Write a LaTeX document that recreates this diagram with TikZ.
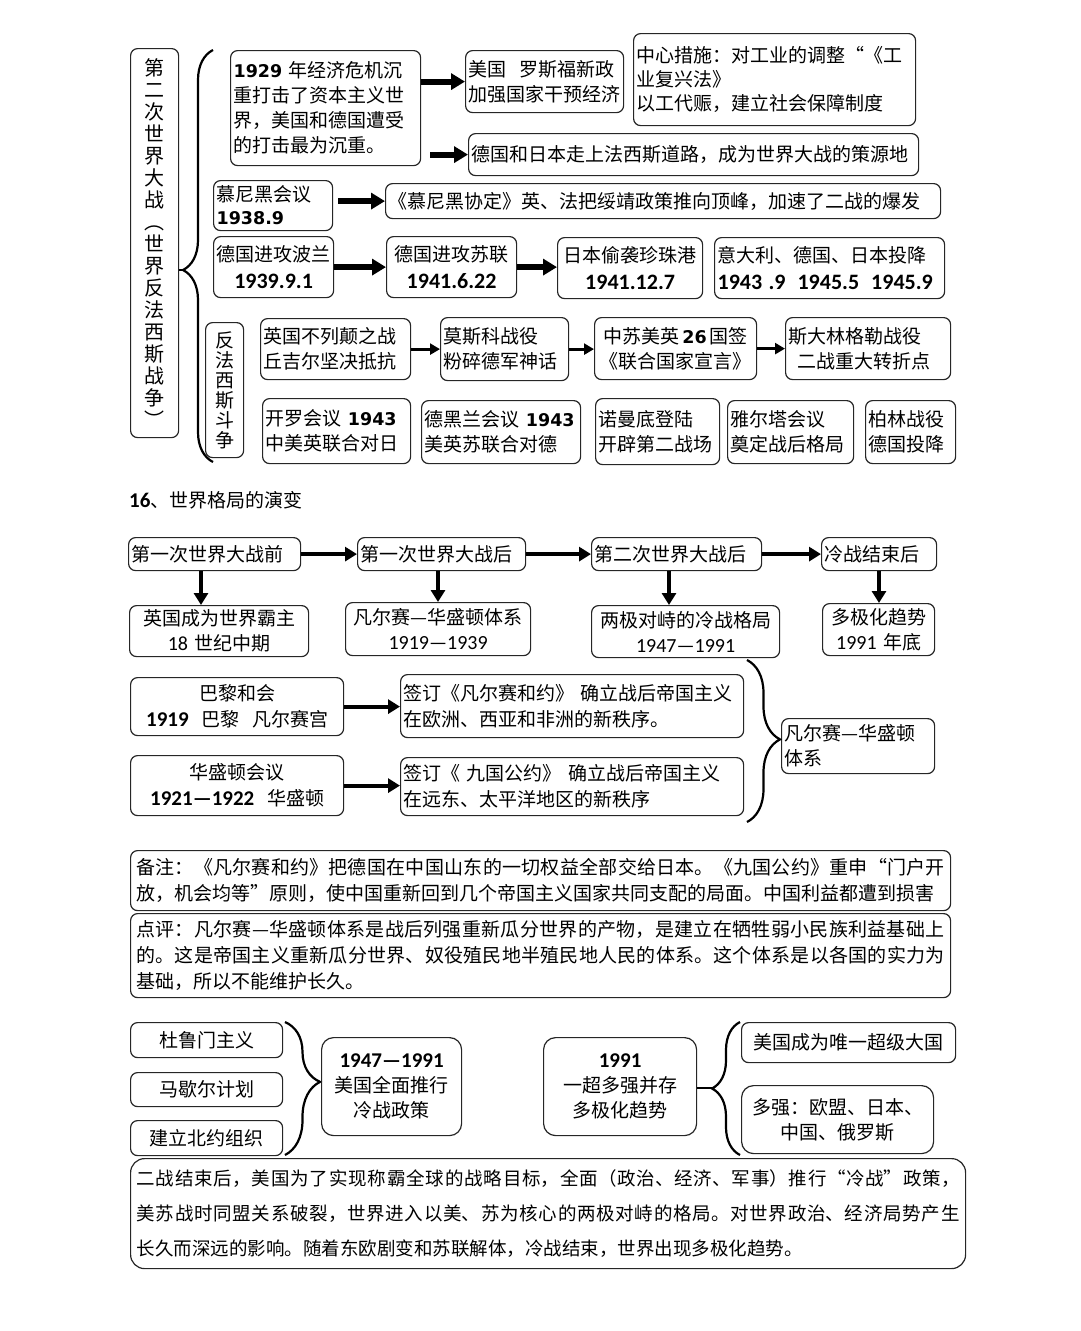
\documentclass[tikz,border=0pt]{standalone}
\usepackage{fontspec}
\setmainfont{Noto Sans CJK SC}
\newfontfamily\widenum{DejaVu Sans}
\newfontfamily\narrownum{Carlito}
\usepackage{tikz}
\usetikzlibrary{arrows.meta,calc,decorations.pathreplacing}
\newcommand{\numw}[1]{{\widenum\bfseries\fontsize{17.5}{25}\selectfont #1}}
\newcommand{\numh}[1]{{\narrownum\bfseries\fontsize{21}{25}\selectfont #1}}
\newcommand{\numr}[1]{{\narrownum\fontsize{20}{25}\selectfont #1}}
\newcommand{\bigdate}[1]{{\narrownum\bfseries\fontsize{22}{25}\selectfont #1}}
\newcommand{\cjkbreak}{\XeTeXlinebreaklocale "zh"\XeTeXlinebreakskip=0pt plus 4pt\relax}

\begin{document}
\begin{tikzpicture}[x=1pt,y=-1pt,
  box/.style={draw=black!85, line width=1.2pt, rounded corners=7pt, anchor=north west,
    inner xsep=3pt, inner ysep=1pt, font=\fontsize{19}{25}\selectfont},
  note/.style={box, align=justify, inner xsep=6pt, font=\fontsize{19}{26}\selectfont\cjkbreak},
  fat/.style={-{Triangle[length=14pt,width=16pt]}, line width=6pt},
  mid/.style={-{Triangle[length=12pt,width=14pt]}, line width=4pt},
  slim/.style={-{Triangle[length=10pt,width=11pt]}, line width=3pt},
  curly/.style 2 args={decorate, decoration={brace, amplitude=#1, aspect=#2}, line width=2.2pt}]
\useasboundingbox (0,0) rectangle (1080,1331);

% ---- 第二次世界大战 ----
\node[box, minimum width=48pt, minimum height=389pt, text width=40pt, inner xsep=4pt, align=center,
  font=\fontsize{20}{22}\selectfont] (title) at (130,48)
  {第\\二\\次\\世\\界\\大\\战\\︵\\世\\界\\反\\法\\西\\斯\\战\\争\\︶};
\coordinate (b1bot) at (213,462);
\coordinate (b1top) at (213,50);
\coordinate (tip1) at (183,270);
\draw[curly={30pt}{0.466}] (b1bot) -- (b1top);
\draw[line width=2.2pt] (title.east |- tip1) -- (tip1);

% 经济危机
\node[box, text width=184pt, minimum height=115pt, align=left] (crisis) at (230,50)
  {\numw{1929} 年经济危机沉\\重打击了资本主义世\\界，美国和德国遭受\\的打击最为沉重。};
\node[box, text width=152pt, minimum height=62pt, align=left] (roosevelt) at (465,50)
  {美国\ \ 罗斯福新政\\加强国家干预经济};
\node[box, text width=276pt, minimum height=92pt, align=left, font=\fontsize{19}{24}\selectfont] (measures) at (633,33)
  {中心措施：对工业的调整“《工\\业复兴法》\\以工代赈，建立社会保障制度};
\node[box, text width=444pt, minimum height=42pt, align=left] (fascism) at (468,133)
  {德国和日本走上法西斯道路，成为世界大战的策源地};
\draw[fat] (crisis.east |- roosevelt.west) -- (roosevelt.west);
\draw[fat] ($(crisis.east |- fascism.west)+(9,0)$) -- (fascism.west);

% 慕尼黑
\node[box, text width=113pt, minimum height=50pt, align=left, font=\fontsize{19}{23}\selectfont] (munich) at (213,180)
  {慕尼黑会议\\\numw{1938.9}};
\node[box, text width=549pt, minimum height=35pt, align=left] (pact) at (385,183)
  {《慕尼黑协定》英、法把绥靖政策推向顶峰，加速了二战的爆发};
\draw[fat] ($(munich.east |- pact.west)+(5,0)$) -- (pact.west);

% 战争进程
\node[box, text width=114pt, minimum height=61pt, align=center] (poland) at (213,236)
  {德国进攻波兰\\[2pt]\bigdate{1939.9.1}};
\node[box, text width=124pt, minimum height=61pt, align=center] (ussr) at (386,236)
  {德国进攻苏联\\[2pt]\bigdate{1941.6.22}};
\node[box, text width=139pt, minimum height=61pt, align=center] (pearl) at (557,237)
  {日本偷袭珍珠港\\[2pt]\bigdate{1941.12.7}};
\node[box, text width=224pt, minimum height=61pt, align=left] (surrender) at (714,237)
  {意大利、德国、日本投降\\[2pt]\bigdate{1943 .9\hspace{12pt}1945.5\hspace{12pt}1945.9}};
\draw[fat] (poland.east) -- (poland.east -| ussr.west);
\draw[fat] (ussr.east) -- (ussr.east -| pearl.west);

% 反法西斯斗争
\node[box, text width=32pt, minimum height=135pt, align=center, font=\fontsize{19}{20}\selectfont] (antifa) at (205,322)
  {反\\法\\西\\斯\\斗\\争};
\node[box, text width=144pt, minimum height=61pt, align=left] (britain) at (260,318)
  {英国不列颠之战\\丘吉尔坚决抵抗};
\node[box, text width=122pt, minimum height=63pt, align=left] (moscow) at (440,317)
  {莫斯科战役\\粉碎德军神话};
\node[box, text width=156pt, minimum height=62pt, align=center] (declaration) at (594,317)
  {中苏美英\,\numw{26}\,国签\\《联合国家宣言》};
\node[box, text width=159pt, minimum height=62pt, align=left] (stalingrad) at (785,317)
  {斯大林格勒战役\\\hspace*{9pt}二战重大转折点};
\draw[slim] (britain.east) -- (britain.east -| moscow.west);
\draw[slim] (moscow.east) -- (moscow.east -| declaration.west);
\draw[slim] (declaration.east) -- (declaration.east -| stalingrad.west);

\node[box, text width=142pt, minimum height=65pt, align=left] (cairo) at (262,398)
  {开罗会议 \numw{1943}\\中美英联合对日};
\node[box, text width=153pt, minimum height=63pt, align=left] (tehran) at (421,400)
  {德黑兰会议 \numw{1943}\\美英苏联合对德};
\node[box, text width=118pt, minimum height=66pt, align=left] (normandy) at (595,398)
  {诺曼底登陆\\开辟第二战场};
\node[box, text width=120pt, minimum height=63pt, align=left] (yalta) at (727,400)
  {雅尔塔会议\\奠定战后格局};
\node[box, text width=84pt, minimum height=63pt, align=left] (berlin) at (865,400)
  {柏林战役\\德国投降};

% ---- 16 世界格局的演变 ----
\node[anchor=west, inner sep=0pt, font=\fontsize{19}{25}\selectfont] (heading) at (129,500)
  {\numh{16}、世界格局的演变};

\node[box, text width=166pt, minimum height=33pt, align=left] (stage1) at (128,537) {第一次世界大战前};
\node[box, text width=162pt, minimum height=33pt, align=left] (stage2) at (357,537) {第一次世界大战后};
\node[box, text width=164pt, minimum height=33pt, align=left] (stage3) at (591,537) {第二次世界大战后};
\node[box, text width=109pt, minimum height=33pt, align=left] (stage4) at (821,537) {冷战结束后};
\draw[mid] (stage1.east) -- (stage2.west);
\draw[mid] (stage2.east) -- (stage3.west);
\draw[mid] (stage3.east) -- (stage4.west);

\node[box, text width=173pt, minimum height=51pt, align=center] (res1) at (129,605)
  {英国成为世界霸主\\\numr{18} 世纪中期};
\node[box, text width=179pt, minimum height=53pt, align=center] (res2) at (345,602)
  {凡尔赛—华盛顿体系\\\numr{1919—1939}};
\node[box, text width=182pt, minimum height=52pt, align=center] (res3) at (591,605)
  {两极对峙的冷战格局\\\numr{1947—1991}};
\node[box, text width=106pt, minimum height=52pt, align=center] (res4) at (822,603)
  {多极化趋势\\\numr{1991} 年底};
\coordinate (d1) at ($(stage1.south west)+(73,0)$);
\coordinate (d2) at ($(stage2.south west)+(81,0)$);
\coordinate (d3) at ($(stage3.south west)+(78,0)$);
\coordinate (d4) at ($(stage4.south west)+(58,0)$);
\draw[mid] (d1) -- (d1 |- res1.north);
\draw[mid] (d2) -- (d2 |- res2.north);
\draw[mid] (d3) -- (d3 |- res3.north);
\draw[mid] (d4) -- (d4 |- res4.north);

% 巴黎和会 / 华盛顿会议
\node[box, text width=207pt, minimum height=58pt, align=center, font=\fontsize{19}{26}\selectfont] (paris) at (130,677)
  {巴黎和会\\\numh{1919}\ \ 巴黎\ \ 凡尔赛宫};
\node[box, text width=337pt, minimum height=63pt, align=left, font=\fontsize{19}{26}\selectfont] (versailles) at (400,674)
  {签订《凡尔赛和约》\ 确立战后帝国主义\\在欧洲、西亚和非洲的新秩序。};
\node[box, text width=207pt, minimum height=60pt, align=center, font=\fontsize{19}{26}\selectfont] (washington) at (130,755)
  {华盛顿会议\\\numh{1921—1922}\ \ 华盛顿};
\node[box, text width=337pt, minimum height=58pt, align=left, font=\fontsize{19}{26}\selectfont] (ninepower) at (400,757)
  {签订《\ 九国公约》\ 确立战后帝国主义\\在远东、太平洋地区的新秩序};
\draw[mid] (paris.east) -- (paris.east -| versailles.west);
\draw[mid] (washington.east) -- (washington.east -| ninepower.west);
\node[box, text width=147pt, minimum height=55pt, align=left] (vws) at (781,718)
  {凡尔赛—华盛顿\\体系};
\coordinate (b2top) at (747,660);
\coordinate (b2bot) at (747,822);
\draw[curly={33pt}{0.49}] (b2top) -- (b2bot);

% 备注 / 点评
\node[note, text width=808pt, minimum height=60pt] (remark) at (130,850)
  {\parfillskip=0pt 备注：《凡尔赛和约》把德国在中国山东的一切权益全部交给日本。《九国公约》重申“门户开\break
   放，机会均等”原则，使中国重新回到几个帝国主义国家共同支配的局面。中国利益都遭到损害};
\node[note, text width=808pt, minimum height=84pt] (review) at (130,913)
  {点评：凡尔赛—华盛顿体系是战后列强重新瓜分世界的产物，是建立在牺牲弱小民族利益基础上\break
   的。这是帝国主义重新瓜分世界、奴役殖民地半殖民地人民的体系。这个体系是以各国的实力为\break
   基础，所以不能维护长久。};

% ---- 冷战 ----
\node[box, text width=146pt, minimum height=35pt, align=center] (truman) at (130,1022) {杜鲁门主义};
\node[box, text width=146pt, minimum height=34pt, align=center] (marshall) at (130,1072) {马歇尔计划};
\node[box, text width=146pt, minimum height=35pt, align=center] (nato) at (130,1120) {建立北约组织};
\coordinate (b3top) at (285,1022);
\coordinate (b3bot) at (285,1155);
\draw[curly={35pt}{0.45}] (b3top) -- (b3bot);
\node[box, text width=134pt, minimum height=98pt, align=center, rounded corners=12pt] (coldwar) at (321,1037)
  {\numh{1947—1991}\\美国全面推行\\冷战政策};
\node[box, text width=147pt, minimum height=98pt, align=center, rounded corners=12pt] (multi) at (543,1037)
  {\numh{1991}\\一超多强并存\\多极化趋势};
\coordinate (b4bot) at (740,1155);
\coordinate (b4top) at (740,1022);
\coordinate (tip4) at (712,1088);
\draw[curly={28pt}{0.5}] (b4bot) -- (b4top);
\draw[line width=2.2pt] (multi.east |- tip4) -- (tip4);
\node[box, text width=208pt, minimum height=40pt, align=center] (superpower) at (741,1022)
  {美国成为唯一超级大国};
\node[box, text width=186pt, minimum height=68pt, align=center, rounded corners=12pt] (powers) at (741,1085)
  {多强：欧盟、日本、\\中国、俄罗斯};
\node[note, text width=823pt, minimum height=110pt, rounded corners=14pt, font=\fontsize{18.5}{35}\selectfont\cjkbreak] (summary) at (130,1158)
  {二战结束后，美国为了实现称霸全球的战略目标，全面（政治、经济、军事）推行“冷战”政策，\break
   美苏战时同盟关系破裂，世界进入以美、苏为核心的两极对峙的格局。对世界政治、经济局势产生\break
   长久而深远的影响。随着东欧剧变和苏联解体，冷战结束，世界出现多极化趋势。};
\end{tikzpicture}
\end{document}
